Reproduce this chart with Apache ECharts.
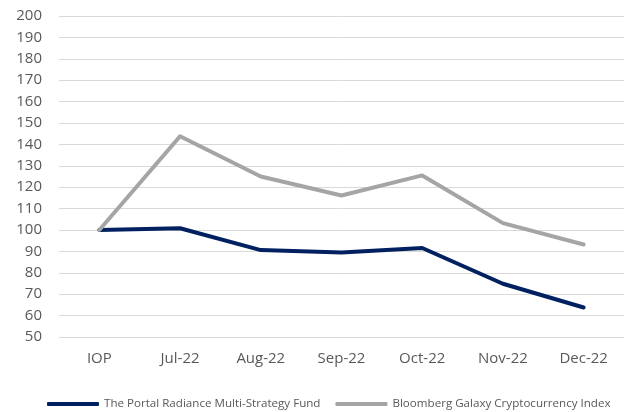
<!DOCTYPE html>
<html>
<head>
<meta charset="utf-8">
<script src="https://cdn.jsdelivr.net/npm/echarts@6/dist/echarts.min.js"></script>
<style>
html,body{margin:0;padding:0;background:#fff;}
#chart{width:627px;height:412px;}
</style>
</head>
<body>
<div id="chart"></div>
<script>
var months = ['IOP','Jul-22','Aug-22','Sep-22','Oct-22','Nov-22','Dec-22'];
var fundValues = [100, 100.8, 90.6, 89.5, 91.6, 74.9, 63.8];
var indexValues = [100, 143.8, 125, 116.1, 125.5, 103.2, 93.2];
var fundName = 'The Portal Radiance Multi-Strategy Fund';
var indexName = 'Bloomberg Galaxy Cryptocurrency Index';

var COLOR = {
	FUND:'#002060',
	INDEX:'#A5A5A5',
	TEXT:'#595959',
	GRID:'#D9D9D9'
};
var FONT = 'Open Sans';

function renderChart(){
	var myChart = echarts.init(document.getElementById('chart'));
	myChart.setOption({
		animation:false,
		grid:{
			left:59,
			right:3,
			top:16,
			bottom:75
		},
		legend:{
			top:393,
			left:42,
			itemWidth:52,
			itemHeight:4,
			itemGap:15,
			icon:'roundRect',
			textStyle:{
				color:COLOR.TEXT,
				fontSize:11.6,
				fontFamily:FONT
			},
			data:[fundName,indexName]
		},
		xAxis:{
			type:'category',
			boundaryGap:true,
			data:months,
			axisTick:{show:false},
			axisLine:{show:false},
			axisLabel:{
				color:COLOR.TEXT,
				fontSize:15,
				fontFamily:FONT,
				margin:14
			}
		},
		yAxis:{
			type:'value',
			min:50,
			max:200,
			interval:10,
			axisTick:{show:false},
			axisLine:{show:false},
			axisLabel:{
				color:COLOR.TEXT,
				fontSize:15,
				fontFamily:FONT,
				margin:17
			},
			splitLine:{
				lineStyle:{color:COLOR.GRID,width:1}
			}
		},
		series:[
			{
				name:fundName,
				type:'line',
				symbol:'none',
				data:fundValues,
				itemStyle:{color:COLOR.FUND},
				lineStyle:{color:COLOR.FUND,width:4,cap:'round',join:'round'}
			},
			{
				name:indexName,
				type:'line',
				symbol:'none',
				data:indexValues,
				itemStyle:{color:COLOR.INDEX},
				lineStyle:{color:COLOR.INDEX,width:4,cap:'round',join:'round'}
			}
		]
	});
}

renderChart();
</script>
</body>
</html>
